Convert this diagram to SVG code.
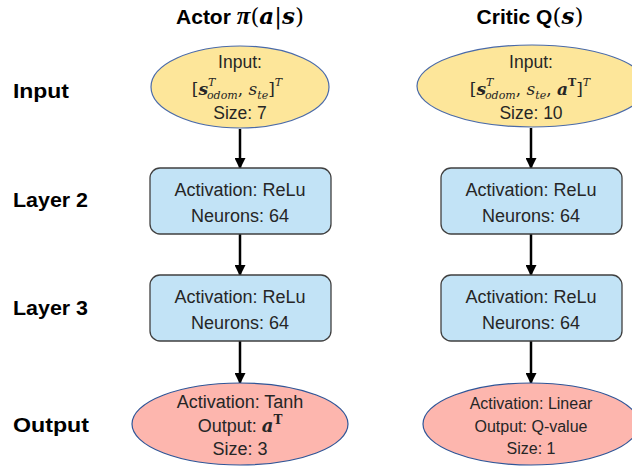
<svg xmlns="http://www.w3.org/2000/svg" width="632" height="467" viewBox="0 0 632 467">
<style>
.lbl{font-family:"Liberation Sans",Arial,sans-serif;font-weight:bold;font-size:21px;fill:#000}
.t{font-family:"Liberation Sans",Arial,sans-serif;font-size:18px;fill:#262626;text-anchor:middle}
.e{font-size:17.5px}
.m{font-family:"DejaVu Serif","Liberation Serif",serif}
.bi{font-weight:bold;font-style:italic}
.it{font-style:italic}
.inp{fill:#fde69a;stroke:#4a6aa8;stroke-width:1.2}
.box{fill:#c2e3f6;stroke:#404040;stroke-width:1.3}
.out{fill:#fdb6ae;stroke:#2f5597;stroke-width:1.2}
.conn{stroke:#000;stroke-width:2.5;fill:none;marker-end:url(#ah)}
</style>
<defs>
<marker id="ah" viewBox="0 0 10 10" refX="9" refY="5" markerWidth="4.4" markerHeight="4.4" orient="auto" markerUnits="strokeWidth">
<path d="M0,0 L10,5 L0,10 z" fill="#000"/>
</marker>
</defs>
<rect width="632" height="467" fill="#fff"/>

<g id="titles">
<text x="240" y="24" text-anchor="middle" class="lbl">Actor <tspan font-family="Liberation Serif,serif" font-style="italic" font-size="25">π</tspan><tspan class="m" font-weight="normal" font-size="23">(</tspan><tspan class="m bi" font-size="23">a</tspan><tspan class="m" font-weight="normal" font-size="23">|</tspan><tspan class="m bi" font-size="23">s</tspan><tspan class="m" font-weight="normal" font-size="23">)</tspan></text>
<text x="530" y="24" text-anchor="middle" class="lbl">Critic Q<tspan class="m" font-size="23" font-weight="normal">(</tspan><tspan class="m bi" font-size="23">s</tspan><tspan class="m" font-size="23" font-weight="normal">)</tspan></text>
</g>

<g id="row-labels">
<text x="13" y="98" class="lbl" textLength="56" lengthAdjust="spacingAndGlyphs">Input</text>
<text x="13" y="207" class="lbl" textLength="75" lengthAdjust="spacingAndGlyphs">Layer 2</text>
<text x="13" y="315" class="lbl" textLength="75" lengthAdjust="spacingAndGlyphs">Layer 3</text>
<text x="13" y="432" class="lbl" textLength="76" lengthAdjust="spacingAndGlyphs">Output</text>
</g>

<g id="connectors">
<line x1="240" y1="129" x2="240" y2="168" class="conn"/>
<line x1="240" y1="234" x2="240" y2="275" class="conn"/>
<line x1="240" y1="341" x2="240" y2="383" class="conn"/>
<line x1="531" y1="128" x2="531" y2="168" class="conn"/>
<line x1="531" y1="234" x2="531" y2="275" class="conn"/>
<line x1="531" y1="341" x2="531" y2="383" class="conn"/>
</g>

<g id="actor-input">
<ellipse cx="240" cy="87" rx="89" ry="41" class="inp"/>
<text x="240" y="68" class="t e">Input:</text>
<text x="237" y="95" class="m" font-size="17" text-anchor="middle" fill="#262626">[<tspan class="bi">s</tspan><tspan class="it" font-size="11" dy="-9">T</tspan><tspan class="it" font-size="11" dx="-7.5" dy="13">odom</tspan><tspan dy="-4">, </tspan><tspan class="it">s</tspan><tspan class="it" font-size="11" dy="4">te</tspan><tspan dy="-4">]</tspan><tspan class="it" font-size="11" dy="-9">T</tspan></text>
<text x="240" y="119" class="t e">Size: 7</text>
</g>

<g id="actor-layer2">
<rect x="150" y="168" width="181" height="66" rx="10" class="box"/>
<text x="240" y="196" class="t">Activation: ReLu</text>
<text x="240" y="222" class="t">Neurons: 64</text>
</g>

<g id="actor-layer3">
<rect x="150" y="275" width="181" height="66" rx="10" class="box"/>
<text x="240" y="303" class="t">Activation: ReLu</text>
<text x="240" y="329" class="t">Neurons: 64</text>
</g>

<g id="actor-output">
<ellipse cx="240" cy="424" rx="108" ry="41" class="out"/>
<text x="240" y="408" class="t">Activation: Tanh</text>
<text x="240" y="432" class="t">Output: <tspan class="m bi" font-size="18">a</tspan><tspan class="m" font-weight="bold" font-size="12" dy="-8">T</tspan></text>
<text x="240" y="455" class="t">Size: 3</text>
</g>

<g id="critic-input">
<ellipse cx="532" cy="86" rx="115" ry="41" class="inp"/>
<text x="531" y="68" class="t e">Input:</text>
<text x="530" y="95" class="m" font-size="17" text-anchor="middle" fill="#262626">[<tspan class="bi">s</tspan><tspan class="it" font-size="11" dy="-9">T</tspan><tspan class="it" font-size="11" dx="-7.5" dy="13">odom</tspan><tspan dy="-4">, </tspan><tspan class="it">s</tspan><tspan class="it" font-size="11" dy="4">te</tspan><tspan dy="-4">, </tspan><tspan class="bi">a</tspan><tspan font-weight="bold" font-size="11" dy="-9">T</tspan><tspan dy="9">]</tspan><tspan class="it" font-size="11" dy="-9">T</tspan></text>
<text x="531" y="119" class="t e">Size: 10</text>
</g>

<g id="critic-layer2">
<rect x="441" y="168" width="181" height="66" rx="10" class="box"/>
<text x="531" y="196" class="t">Activation: ReLu</text>
<text x="531" y="222" class="t">Neurons: 64</text>
</g>

<g id="critic-layer3">
<rect x="441" y="275" width="181" height="66" rx="10" class="box"/>
<text x="531" y="303" class="t">Activation: ReLu</text>
<text x="531" y="329" class="t">Neurons: 64</text>
</g>

<g id="critic-output">
<ellipse cx="531" cy="424" rx="108" ry="41" class="out"/>
<text x="531" y="409" class="t" style="font-size:16px">Activation: Linear</text>
<text x="531" y="432" class="t" style="font-size:16px">Output: Q-value</text>
<text x="531" y="454" class="t" style="font-size:16px">Size: 1</text>
</g>
</svg>
